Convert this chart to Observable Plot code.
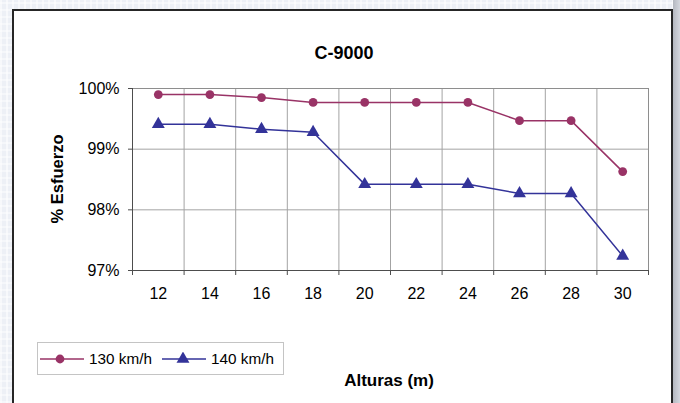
<!DOCTYPE html>
<html>
<head>
<meta charset="utf-8">
<script src="https://cdn.jsdelivr.net/npm/d3@7"></script>
<script src="https://cdn.jsdelivr.net/npm/@observablehq/plot@0.6"></script>
<style>
  html, body { margin: 0; padding: 0; }
  body { width: 680px; height: 403px; overflow: hidden; font-family: "Liberation Sans", Arial, sans-serif; }
  #wrap {
    position: relative; width: 680px; height: 403px; overflow: hidden;
    background-color: #edf0f6;
    background-image:
      repeating-linear-gradient(90deg, rgba(255,255,255,0.55) 0 2px, rgba(255,255,255,0) 2px 6px),
      repeating-linear-gradient(0deg, rgba(255,255,255,0.45) 0 2px, rgba(255,255,255,0) 2px 7px);
  }
  #shadow { position: absolute; left: 673px; top: 0; width: 7px; height: 403px;
    background: linear-gradient(90deg, #b4b8c0, #d4d7de); }
  #panel { position: absolute; left: 12px; top: 9px; width: 657px; height: 420px;
    background: #fff; border: 2.5px solid #262626; }
  #chart { position: absolute; left: 0; top: 0; }
  .lbl { position: absolute; font-weight: bold; color: #000; line-height: 1; white-space: nowrap; }
  #title { left: 344px; top: 44px; font-size: 18px; transform: translateX(-50%); }
  #ylabel { left: 57px; top: 179px; font-size: 16.5px; transform: translate(-50%, -50%) rotate(-90deg); }
  #xlabel { left: 389px; top: 372px; font-size: 17px; transform: translateX(-50%); }
  #legend { position: absolute; left: 37px; top: 342px; width: 245px; height: 31px;
    border: 1px solid #c4c4c4; background: #fff; }
  #legend .item { position: absolute; top: 0; height: 31px; display: flex; align-items: center;
    font-size: 15.3px; color: #000; }
  #legend svg { display: block; margin-right: 5px; }
</style>
</head>
<body>
<div id="wrap">
  <div id="shadow"></div>
  <div id="panel"></div>
  <div id="chart"></div>
  <div id="title" class="lbl">C-9000</div>
  <div id="ylabel" class="lbl">% Esfuerzo</div>
  <div id="xlabel" class="lbl">Alturas (m)</div>
  <div id="legend"></div>
</div>
<script>
// Heights (m) along the x axis
const heights = [12, 14, 16, 18, 20, 22, 24, 26, 28, 30];
// Effort (%) per height, by wind speed
const effort130 = [99.90, 99.90, 99.85, 99.77, 99.77, 99.77, 99.77, 99.47, 99.47, 98.63];
const effort140 = [99.41, 99.41, 99.33, 99.28, 98.42, 98.42, 98.42, 98.27, 98.27, 97.24];
// Y axis ticks (%)
const yTicks = [97, 98, 99, 100];
// Series names and colours
const seriesNames = ["130 km/h", "140 km/h"];
const seriesColors = ["#993366", "#333399"];
const seriesSymbols = ["circle", "triangle"];

const rows130 = heights.map((h, i) => ({h, v: effort130[i]}));
const rows140 = heights.map((h, i) => ({h, v: effort140[i]}));

// Category boundaries: gridlines and tick marks sit between the heights
const step = heights[1] - heights[0];
const bounds = [heights[0] - step / 2, ...heights.map(h => h + step / 2)];

const gridColor = "#a3a3a3";
const axisColor = "#4d4d4d";

const chart = Plot.plot({
  width: 680,
  height: 403,
  marginLeft: 132,
  marginRight: 32,
  marginTop: 88,
  marginBottom: 133,
  style: {background: "transparent", fontFamily: "'Liberation Sans', Arial, sans-serif", fontSize: "16px", color: "#000", overflow: "visible"},
  x: {domain: [bounds[0], bounds[bounds.length - 1]]},
  y: {domain: [yTicks[0], yTicks[yTicks.length - 1]]},
  marks: [
    Plot.gridY(yTicks, {stroke: gridColor, strokeOpacity: 1}),
    Plot.gridX(bounds, {stroke: gridColor, strokeOpacity: 1}),
    Plot.frame({stroke: "#8e8e8e"}),
    Plot.ruleX([bounds[0]], {stroke: axisColor}),
    Plot.ruleY([yTicks[0]], {stroke: axisColor}),
    Plot.axisY({ticks: yTicks, tickSize: 4, tickPadding: 9, stroke: axisColor, tickFormat: d => d + "%", label: null}),
    Plot.axisX({ticks: heights, tickSize: 0, tickPadding: 17, tickFormat: d => String(d), label: null}),
    Plot.axisX({ticks: bounds, tickSize: 5, stroke: axisColor, tickFormat: () => "", label: null}),
    Plot.line(rows130, {x: "h", y: "v", stroke: seriesColors[0], strokeWidth: 1.5}),
    Plot.line(rows140, {x: "h", y: "v", stroke: seriesColors[1], strokeWidth: 1.5}),
    Plot.dot(rows130, {x: "h", y: "v", symbol: seriesSymbols[0], r: 4.4, fill: seriesColors[0], stroke: "none"}),
    Plot.dot(rows140, {x: "h", y: "v", symbol: seriesSymbols[1], r: 4.8, fill: seriesColors[1], stroke: "none"})
  ]
});
document.getElementById("chart").appendChild(chart);

// Legend: line with marker, then the series name
const legend = document.getElementById("legend");
const itemLeft = [2, 124];
seriesNames.forEach((name, i) => {
  const item = document.createElement("div");
  item.className = "item";
  item.style.left = itemLeft[i] + "px";
  const sw = d3.create("svg").attr("width", 44).attr("height", 14);
  sw.append("line").attr("x1", 0).attr("x2", 44).attr("y1", 7).attr("y2", 7)
    .attr("stroke", seriesColors[i]).attr("stroke-width", 1.5);
  const sym = i === 0 ? d3.symbolCircle : d3.symbolTriangle;
  const r = i === 0 ? 4.4 : 4.8;
  sw.append("path").attr("transform", `translate(${i === 0 ? 20 : 21},7)`)
    .attr("d", d3.symbol(sym, Math.PI * r * r)()).attr("fill", seriesColors[i]);
  item.appendChild(sw.node());
  const t = document.createElement("span");
  t.textContent = name;
  item.appendChild(t);
  legend.appendChild(item);
});
</script>
</body>
</html>
